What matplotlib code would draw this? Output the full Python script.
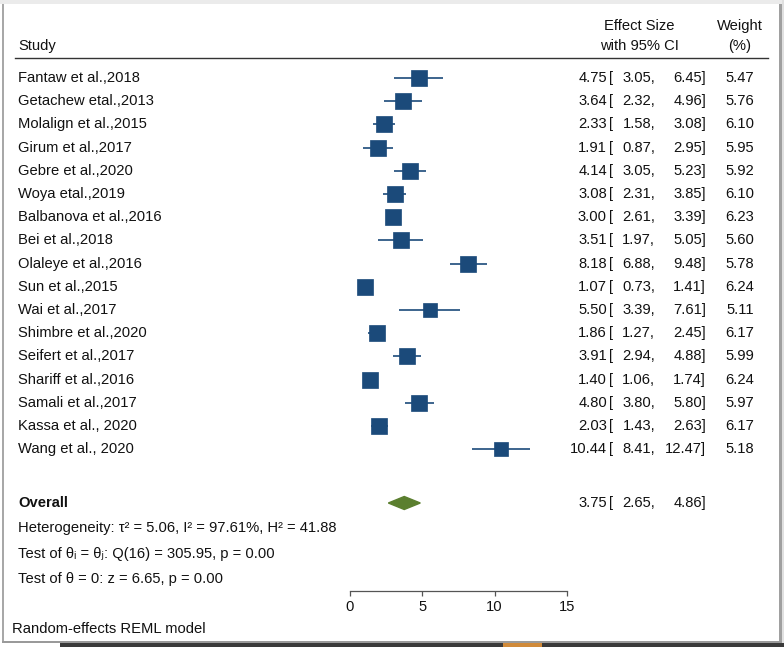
import matplotlib
matplotlib.use("Agg")
import matplotlib.pyplot as plt
from matplotlib.transforms import blended_transform_factory
from matplotlib.patches import Rectangle, Polygon

plt.rcParams['font.family'] = ['Liberation Sans', 'DejaVu Sans']

studies = ["Fantaw et al.,2018", "Getachew etal.,2013", "Molalign et al.,2015",
           "Girum et al.,2017", "Gebre et al.,2020", "Woya etal.,2019",
           "Balbanova et al.,2016", "Bei et al.,2018", "Olaleye et al.,2016",
           "Sun et al.,2015", "Wai et al.,2017", "Shimbre et al.,2020",
           "Seifert et al.,2017", "Shariff et al.,2016", "Samali et al.,2017",
           "Kassa et al., 2020", "Wang et al., 2020"]
est = [4.75, 3.64, 2.33, 1.91, 4.14, 3.08, 3.00, 3.51, 8.18, 1.07, 5.50, 1.86,
       3.91, 1.40, 4.80, 2.03, 10.44]
lo = [3.05, 2.32, 1.58, 0.87, 3.05, 2.31, 2.61, 1.97, 6.88, 0.73, 3.39, 1.27,
      2.94, 1.06, 3.80, 1.43, 8.41]
hi = [6.45, 4.96, 3.08, 2.95, 5.23, 3.85, 3.39, 5.05, 9.48, 1.41, 7.61, 2.45,
      4.88, 1.74, 5.80, 2.63, 12.47]
weight = [5.47, 5.76, 6.10, 5.95, 5.92, 6.10, 6.23, 5.60, 5.78, 6.24, 5.11, 6.17,
          5.99, 6.24, 5.97, 6.17, 5.18]
overall_est, overall_lo, overall_hi = 3.75, 2.65, 4.86
xticks = [0, 5, 10, 15]

W, H = 784, 647
fig = plt.figure(figsize=(W / 100, H / 100), dpi=100)
fig.patch.set_facecolor('white')

# axes: x 0..15 -> px 350..567 ; bottom spine at px 591, top px 60
ax = fig.add_axes([350 / W, (H - 591) / H, 217 / W, (591 - 60) / H])
row0, step = 78.0, 23.2
ax.set_ylim((591 - row0) / step, (60 - row0) / step)
ax.set_xlim(0, 15)
for s in ['top', 'left', 'right']:
    ax.spines[s].set_visible(False)
ax.spines['bottom'].set_color('#555555')
ax.spines['bottom'].set_linewidth(0.9)
ax.set_yticks([])
ax.set_xticks(xticks)
ax.set_xticklabels([str(t) for t in xticks])
fs = 10.6
ax.tick_params(axis='x', direction='out', length=3.8, width=0.9, color='#555555',
               labelsize=fs, pad=3.0, labelcolor='#111111')
ax.patch.set_alpha(0)

blue = '#1b4a7a'
green = '#5b7f2f'
rows = list(range(len(studies)))
for i in rows:
    ax.plot([lo[i], hi[i]], [i, i], color=blue, lw=1.2, solid_capstyle='butt', zorder=2)
    side_px = 6.55 * weight[i] ** 0.5
    ax.plot(est[i], i, marker='s', ms=side_px * 0.72, color=blue, mec=blue, mew=0.5,
            zorder=3)

y_over = (503 - row0) / step
dh = 6.5 / step
ax.add_patch(Polygon([[overall_lo, y_over], [overall_est, y_over - dh],
                      [overall_hi, y_over], [overall_est, y_over + dh]],
                     closed=True, color=green, zorder=3, clip_on=False))

tr = blended_transform_factory(fig.transFigure, ax.transData)

def px(x):
    return x / W

def t(x, y, s, ha='left', **kw):
    ax.text(px(x), y, s, transform=tr, ha=ha, va='center', fontsize=fs,
            clip_on=False, color='#111111', **kw)

# headers
yh1 = (26 - row0) / step
yh2 = (46 - row0) / step
t(18, yh2, "Study")
t(639, yh1, "Effect Size", ha='center')
t(639, yh2, "with 95% CI", ha='center')
t(740, yh1, "Weight", ha='center')
t(740, yh2, "(%)", ha='center')
yline = (58 - row0) / step
ax.plot([px(15), px(768)], [yline, yline], transform=tr, color='#333333', lw=1.0,
        clip_on=False)

def row_text(y, e, l, h, w=None):
    t(607, y, f"{e:.2f}", ha='right')
    t(609, y, "[")
    t(655, y, f"{l:.2f},", ha='right')
    t(706, y, f"{h:.2f}]", ha='right')
    if w is not None:
        t(754, y, f"{w:.2f}", ha='right')

for i in rows:
    t(18, i, studies[i])
    row_text(i, est[i], lo[i], hi[i], weight[i])

t(18, y_over, "Overall", fontweight='bold')
row_text(y_over, overall_est, overall_lo, overall_hi)

t(18, (528 - row0) / step,
  "Heterogeneity: τ² = 5.06, I² = 97.61%, H² = 41.88")
t(18, (554 - row0) / step, "Test of θᵢ = θⱼ: Q(16) = 305.95, p = 0.00")
t(18, (579 - row0) / step, "Test of θ = 0: z = 6.65, p = 0.00")
t(12, (629 - row0) / step, "Random-effects REML model")

# screenshot frame
def frect(x, y, w, h, c):
    fig.patches.append(Rectangle((x / W, 1 - (y + h) / H), w / W, h / H,
                                 transform=fig.transFigure, color=c, lw=0, zorder=-1))
frect(0, 0, W, 4, '#ebebeb')
frect(2, 4, 2, 638, '#a8a8a8')
frect(779, 4, 3, 638, '#a0a0a0')
frect(782, 0, 2, 647, '#e0e0e0')
frect(2, 641, 780, 2, '#9a9a9a')
frect(60, 643, 724, 4, '#3a3a3a')
frect(503, 643, 39, 4, '#d08a3a')

fig.savefig("out.png", dpi=100)
